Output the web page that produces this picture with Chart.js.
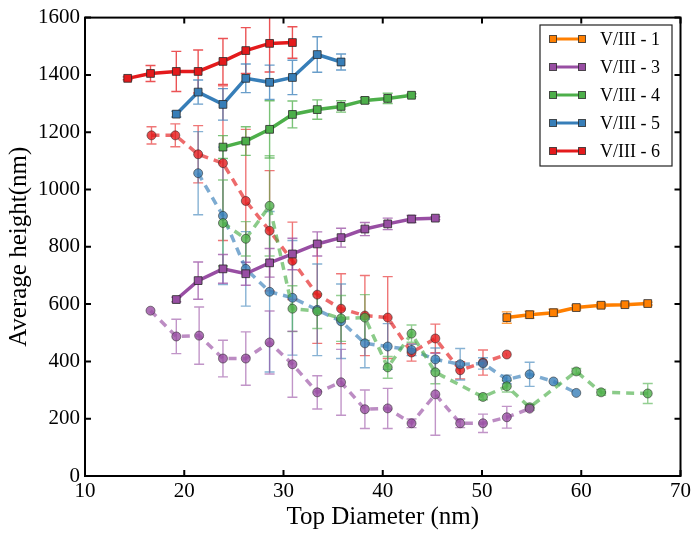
<!DOCTYPE html>
<html><head><meta charset="utf-8">
<script src="https://cdn.jsdelivr.net/npm/chart.js@4/dist/chart.umd.min.js"></script>
<style>html,body{margin:0;padding:0;background:#fff}#wrap{width:694px;height:533px}</style>
</head><body><div id="wrap"><canvas id="c" width="694" height="533"></canvas></div>
<script>
// ---- data ----
const seriesNames = ['V/III - 1', 'V/III - 3', 'V/III - 4', 'V/III - 5', 'V/III - 6'];
const xTicks = [10, 20, 30, 40, 50, 60, 70];
const yTicks = [0, 200, 400, 600, 800, 1000, 1200, 1400, 1600];

// solid series (legend)
const v1X = [52.5, 54.8, 57.2, 59.5, 62.0, 64.4, 66.7];
const v1H = [553, 563, 570, 588, 596, 598, 602];
const v1E = [20, 12, 12, 8, 8, 5, 5];

const v3X = [19.2, 21.4, 23.9, 26.2, 28.6, 30.9, 33.4, 35.8, 38.2, 40.5, 42.9, 45.3];
const v3H = [616, 682, 723, 706, 744, 775, 810, 832, 862, 880, 897, 900];
const v3E = [8, 65, 50, 40, 50, 55, 42, 33, 23, 20, 12, 5];

const v4X = [23.9, 26.2, 28.6, 30.9, 33.4, 35.8, 38.2, 40.5, 42.9];
const v4H = [1148, 1169, 1210, 1262, 1279, 1290, 1311, 1318, 1329];
const v4E = [40, 50, 100, 47, 34, 20, 10, 18, 5];

const v5X = [19.2, 21.4, 23.9, 26.2, 28.6, 30.9, 33.4, 35.8];
const v5H = [1263, 1340, 1297, 1388, 1374, 1391, 1471, 1445];
const v5E = [10, 42, 55, 50, 60, 60, 62, 28];

const v6X = [14.3, 16.6, 19.2, 21.4, 23.9, 26.2, 28.6, 30.9];
const v6H = [1388, 1405, 1412, 1412, 1447, 1485, 1510, 1513];
const v6E = [5, 28, 70, 75, 80, 80, 100, 55];

// dashed series
const v3dX = [16.6, 19.2, 21.5, 23.9, 26.2, 28.6, 30.9, 33.4, 35.8, 38.2, 40.5, 42.9, 45.3, 47.8, 50.1, 52.5, 54.8];
const v3dH = [577, 487, 490, 410, 410, 466, 390, 292, 327, 233, 236, 184, 285, 184, 184, 205, 235];
const v3dE = [0, 60, 100, 64, 93, 110, 115, 58, 115, 67, 70, 15, 143, 15, 32, 38, 0];

const v4dX = [23.9, 26.2, 28.6, 30.9, 33.4, 35.8, 38.2, 40.5, 42.9, 45.3, 50.1, 52.5, 54.8, 59.5, 62.0, 66.7];
const v4dH = [883, 828, 943, 584, 575, 550, 553, 379, 497, 362, 276, 313, 240, 365, 292, 288];
const v4dE = [150, 60, 175, 80, 60, 80, 80, 38, 30, 40, 10, 20, 10, 10, 10, 35];

const v5dX = [21.4, 23.9, 26.2, 28.6, 30.9, 33.4, 35.8, 38.2, 40.5, 42.9, 45.3, 47.8, 50.1, 52.5, 54.8, 57.2, 59.5];
const v5dH = [1057, 908, 723, 643, 622, 580, 540, 463, 452, 440, 407, 390, 393, 337, 355, 330, 290];
const v5dE = [145, 240, 130, 280, 200, 160, 130, 85, 80, 20, 40, 55, 20, 15, 42, 0, 0];

const v6dX = [16.7, 19.1, 21.4, 23.9, 26.2, 28.6, 30.9, 33.4, 35.8, 38.2, 40.5, 42.9, 45.3, 47.8, 50.1, 52.5];
const v6dH = [1189, 1189, 1123, 1092, 960, 856, 751, 633, 584, 560, 553, 431, 480, 369, 396, 424];
const v6dE = [30, 40, 100, 270, 250, 210, 135, 170, 122, 140, 143, 30, 50, 30, 44, 0];

// ---- styling ----
const COL = {
  orange: [255, 127, 0], purple: [152, 78, 163], green: [77, 175, 74], blue: [55, 126, 184], red: [228, 26, 28]
};
const rgba = (c, a) => `rgba(${c[0]},${c[1]},${c[2]},${a})`;
const pts = (xs, ys) => xs.map((x, i) => ({ x: x, y: ys[i] }));

function solid(label, xs, ys, es, c) {
  return {
    label, data: pts(xs, ys), errors: es, errColor: rgba(c, 0.75), legend: true,
    borderColor: rgba(c, 1), backgroundColor: rgba(c, 1), borderWidth: 3.5,
    pointStyle: 'rect', pointRadius: 5.5, pointBorderColor: 'rgba(40,40,40,0.8)', pointBorderWidth: 1,
    pointBackgroundColor: rgba(c, 1), tension: 0, showLine: true, fill: false
  };
}
function dashed(label, xs, ys, es, c) {
  return {
    label, data: pts(xs, ys), errors: es, errColor: rgba(c, 0.6), legend: false,
    borderColor: rgba(c, 0.65), backgroundColor: rgba(c, 0.65), borderWidth: 3.5, borderDash: [8, 6],
    pointStyle: 'circle', pointRadius: 4.5, pointBorderColor: 'rgba(40,40,40,0.55)', pointBorderWidth: 1,
    pointBackgroundColor: rgba(c, 0.8), tension: 0, showLine: true, fill: false
  };
}

const datasets = [
  solid(seriesNames[0], v1X, v1H, v1E, COL.orange),
  solid(seriesNames[1], v3X, v3H, v3E, COL.purple),
  solid(seriesNames[2], v4X, v4H, v4E, COL.green),
  solid(seriesNames[3], v5X, v5H, v5E, COL.blue),
  solid(seriesNames[4], v6X, v6H, v6E, COL.red),
  dashed(seriesNames[1] + ' (dashed)', v3dX, v3dH, v3dE, COL.purple),
  dashed(seriesNames[2] + ' (dashed)', v4dX, v4dH, v4dE, COL.green),
  dashed(seriesNames[3] + ' (dashed)', v5dX, v5dH, v5dE, COL.blue),
  dashed(seriesNames[4] + ' (dashed)', v6dX, v6dH, v6dE, COL.red)
];

const SERIF = "'Liberation Serif','Times New Roman',serif";

const errorBarPlugin = {
  id: 'errbars',
  beforeDatasetsDraw(chart) {
    const { ctx, chartArea: a, scales: { x, y } } = chart;
    ctx.save();
    ctx.beginPath(); ctx.rect(a.left, a.top, a.right - a.left, a.bottom - a.top); ctx.clip();
    chart.data.datasets.slice().reverse().forEach(ds => {
      if (!ds.errors) return;
      ctx.strokeStyle = ds.errColor; ctx.lineWidth = 1.4;
      ds.data.forEach((p, i) => {
        const e = ds.errors[i]; if (!e) return;
        const px = x.getPixelForValue(p.x);
        const yt = y.getPixelForValue(p.y + e), yb = y.getPixelForValue(p.y - e);
        ctx.beginPath();
        ctx.moveTo(px, yt); ctx.lineTo(px, yb);
        ctx.moveTo(px - 5, yt); ctx.lineTo(px + 5, yt);
        ctx.moveTo(px - 5, yb); ctx.lineTo(px + 5, yb);
        ctx.stroke();
      });
    });
    ctx.restore();
  }
};

const framePlugin = {
  id: 'frame',
  afterDraw(chart) {
    const { ctx, chartArea: a, scales: { x, y } } = chart;
    ctx.save();
    ctx.strokeStyle = '#000'; ctx.lineWidth = 2;
    ctx.strokeRect(a.left, a.top, a.right - a.left, a.bottom - a.top);
    ctx.lineWidth = 2; ctx.beginPath();
    xTicks.forEach(v => {
      const px = x.getPixelForValue(v);
      ctx.moveTo(px, a.bottom); ctx.lineTo(px, a.bottom - 6);
      ctx.moveTo(px, a.top); ctx.lineTo(px, a.top + 6);
    });
    yTicks.forEach(v => {
      const py = y.getPixelForValue(v);
      ctx.moveTo(a.left, py); ctx.lineTo(a.left + 6, py);
      ctx.moveTo(a.right, py); ctx.lineTo(a.right - 6, py);
    });
    ctx.stroke();

    // legend
    const L = 540, T = 25, R = 672, B = 166;
    ctx.fillStyle = '#fff'; ctx.fillRect(L, T, R - L, B - T);
    ctx.strokeStyle = '#222'; ctx.lineWidth = 1.2; ctx.strokeRect(L, T, R - L, B - T);
    ctx.font = '18px ' + SERIF; ctx.textBaseline = 'middle'; ctx.textAlign = 'left';
    let row = 0;
    chart.data.datasets.forEach(ds => {
      if (!ds.legend) return;
      const yy = T + 14 + row * 28;
      ctx.strokeStyle = ds.borderColor; ctx.lineWidth = 3; ctx.setLineDash([]);
      ctx.beginPath(); ctx.moveTo(553, yy); ctx.lineTo(582, yy); ctx.stroke();
      [553, 582].forEach(cx => {
        ctx.fillStyle = ds.pointBackgroundColor; ctx.fillRect(cx - 3.5, yy - 3.5, 7, 7);
        ctx.strokeStyle = 'rgba(40,40,40,0.8)'; ctx.lineWidth = 1; ctx.strokeRect(cx - 3.5, yy - 3.5, 7, 7);
      });
      ctx.fillStyle = '#000';
      ctx.fillText(ds.label, 600, yy + 1);
      row++;
    });
    ctx.restore();
  }
};

new Chart(document.getElementById('c'), {
  type: 'line',
  data: { datasets },
  plugins: [errorBarPlugin, framePlugin],
  options: {
    responsive: false, animation: false, devicePixelRatio: 1,
    layout: { padding: { top: 16, right: 13, left: 0, bottom: 0 } },
    plugins: { legend: { display: false }, tooltip: { enabled: false } },
    scales: {
      x: {
        type: 'linear', min: 10, max: 70,
        afterBuildTicks: s => { s.ticks = xTicks.map(v => ({ value: v })); },
        afterFit: s => { s.height = 57; },
        grid: { display: false, drawTicks: false }, border: { display: false },
        ticks: { color: '#000', padding: 3, font: { family: SERIF, size: 21 }, callback: v => String(v) },
        title: { display: true, text: 'Top Diameter (nm)', color: '#000', font: { family: SERIF, size: 25 }, padding: { top: 0, bottom: 1 } }
      },
      y: {
        type: 'linear', min: 0, max: 1600,
        afterBuildTicks: s => { s.ticks = yTicks.map(v => ({ value: v })); },
        afterFit: s => { s.width = 85; },
        grid: { display: false, drawTicks: false }, border: { display: false },
        ticks: { color: '#000', padding: 5, font: { family: SERIF, size: 21 }, callback: v => String(v) },
        title: { display: true, text: 'Average height(nm)', color: '#000', font: { family: SERIF, size: 25 }, padding: { top: 4, bottom: 0 } }
      }
    }
  }
});
</script></body></html>
